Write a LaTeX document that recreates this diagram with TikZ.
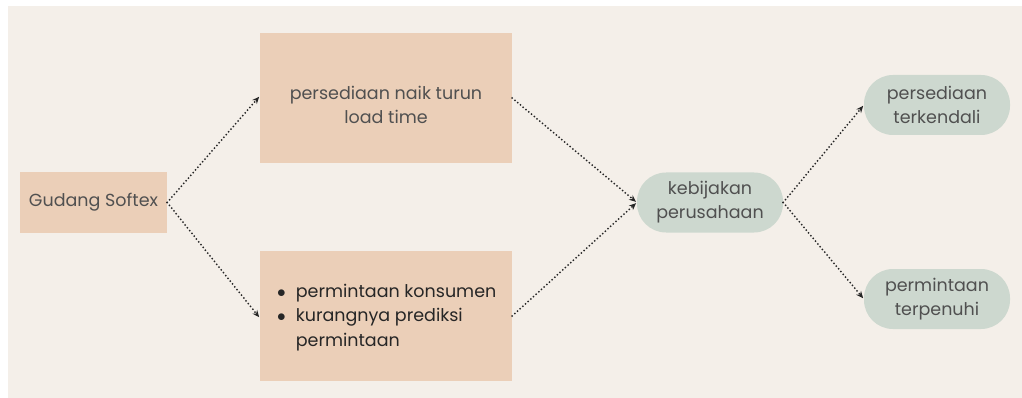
\documentclass[tikz,border=0pt]{standalone}
\usepackage{fontspec}
\setmainfont{Poppins}
\usetikzlibrary{arrows.meta}
\definecolor{bgcream}{HTML}{F4EFE9}
\definecolor{peach}{HTML}{EBCFB8}
\definecolor{sage}{HTML}{CDD8CF}
\definecolor{inkgray}{HTML}{505050}

\begin{document}
\begin{tikzpicture}[x=1pt,y=-1pt,
    box/.style={fill=peach,draw=none,inner sep=0pt},
    pill/.style={fill=sage,draw=none,rounded corners=29pt,minimum width=146pt,minimum height=60pt,inner sep=0pt,align=center,text=inkgray,font=\fontsize{17.5}{24}\selectfont},
    flow/.style={draw=black!85,line width=2pt,line cap=round,dash pattern=on 0pt off 3.6pt,-{Stealth[length=7pt,width=6pt,line cap=butt]},shorten >=1pt}]
            \useasboundingbox (0,0) rectangle (1022,398);
            \fill[white] (0,0) rectangle (1022,398);
            \fill[bgcream] (8,6) rectangle (1022,398);
            % kotak kiri dan tengah
            \node[box,minimum width=147pt,minimum height=61pt,text=inkgray,font=\fontsize{17.5}{24}\selectfont] (gudang) at (93.5,202.5) {Gudang Softex};
            \node[box,minimum width=252pt,minimum height=130pt] (naikturun) at (386,98) {};
            \node[align=center,text=inkgray,font=\fontsize{17.5}{24}\selectfont,inner sep=0pt] (naikturuntxt) at (386,105) {persediaan naik turun\\load time};
            \node[box,minimum width=252pt,minimum height=130pt] (permintaan) at (386,316) {};
            \node[anchor=west,text=black!85,font=\fontsize{17.5}{24.5}\selectfont,inner sep=0pt] (permintaantxt) at (277,317)
                {\begin{tabular}{@{}l@{\hspace{10pt}}l@{}}$\bullet$ & permintaan konsumen\\ $\bullet$ & kurangnya prediksi\\ & permintaan\end{tabular}};
            % kotak kanan
            \node[pill] (kebijakan) at (710,202.5) {kebijakan\\perusahaan};
            \node[pill] (terkendali) at (937,105) {persediaan\\terkendali};
            \node[pill] (terpenuhi) at (937,299) {permintaan\\terpenuhi};
            % panah
            \draw[flow] (gudang.east) -- ([yshift=2pt]naikturun.west);
            \draw[flow] (gudang.east) -- ([yshift=-2pt]permintaan.west);
            \draw[flow] (naikturun.east) -- (kebijakan.west);
            \draw[flow] (permintaan.east) -- (kebijakan.west);
            \draw[flow] (kebijakan.east) -- (terkendali.west);
            \draw[flow] (kebijakan.east) -- (terpenuhi.west);
        \end{tikzpicture}
\end{document}
